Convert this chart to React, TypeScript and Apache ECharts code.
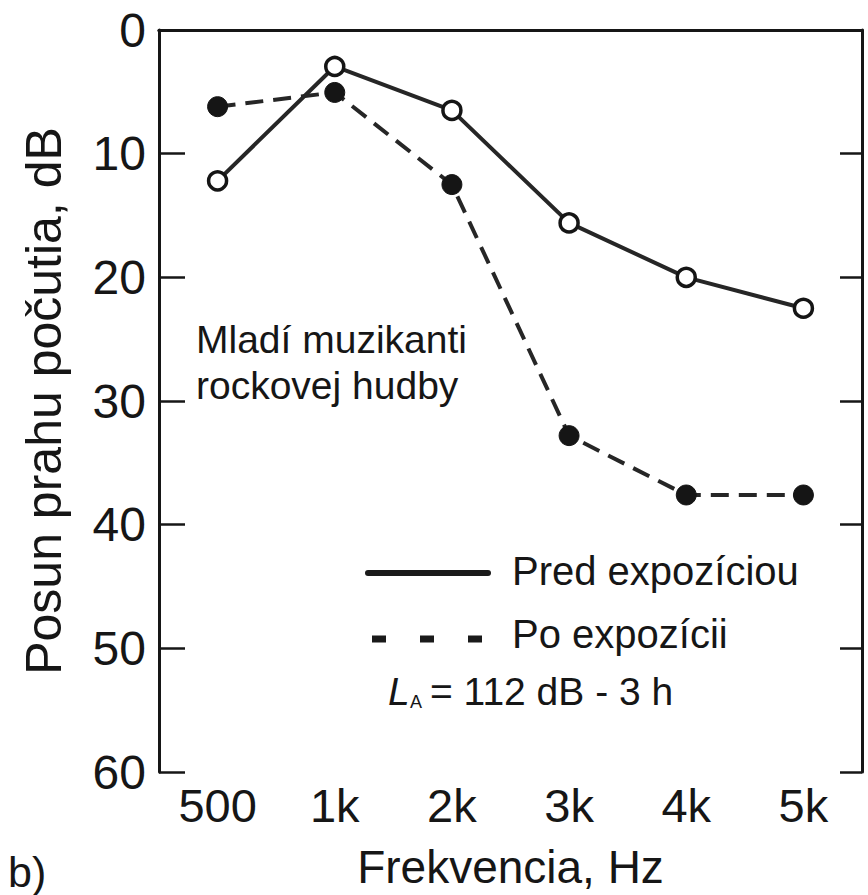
import React, { useEffect, useRef } from "react";
import * as echarts from "echarts";

// Frequency bands (Hz)
const frequencies = ["500", "1k", "2k", "3k", "4k", "5k"];
// Hearing threshold shift before exposure, dB
const predExpoziciou = [12.2, 2.95, 6.5, 15.6, 20.0, 22.5];
// Hearing threshold shift after exposure, dB
const poExpozicii = [6.2, 5.05, 12.5, 32.8, 37.6, 37.6];
// Vertical axis range and step
const yMin = 0;
const yMax = 60;
const yStep = 10;

const FONT = "'Liberation Sans', Arial, Helvetica, sans-serif";
const INK = "#161616";

export default function App() {
  const ref = useRef<HTMLDivElement>(null);

  useEffect(() => {
    if (!ref.current) return;
    const chart = echarts.init(ref.current, null, { renderer: "svg" });

    const tickStyle = { color: INK, width: 2.5 };
    const axisLineStyle = { color: INK, width: 3 };

    chart.setOption({
      animation: false,
      backgroundColor: "#fff",
      grid: { left: 159, right: 6, top: 30, bottom: 120, containLabel: false },
      xAxis: [
        {
          type: "category",
          position: "bottom",
          data: frequencies,
          boundaryGap: true,
          axisLine: { lineStyle: axisLineStyle },
          axisTick: { inside: true, alignWithLabel: true, length: 25, lineStyle: tickStyle },
          axisLabel: { color: INK, fontSize: 47, fontFamily: FONT, margin: 10 },
          splitLine: { show: false },
          name: "Frekvencia, Hz",
          nameLocation: "middle",
          nameGap: 72,
          nameTextStyle: { color: INK, fontSize: 46, fontFamily: FONT, verticalAlign: "top" },
        },
        {
          type: "category",
          position: "top",
          data: frequencies,
          boundaryGap: true,
          axisLine: { lineStyle: axisLineStyle },
          axisTick: { inside: true, alignWithLabel: true, length: 27, lineStyle: tickStyle },
          axisLabel: { show: false },
          splitLine: { show: false },
        },
      ],
      yAxis: [
        {
          type: "value",
          position: "left",
          inverse: true,
          min: yMin,
          max: yMax,
          interval: yStep,
          axisLine: { show: true, lineStyle: axisLineStyle },
          axisTick: { show: true, inside: true, length: 26, lineStyle: tickStyle },
          axisLabel: { color: INK, fontSize: 48, fontFamily: FONT, margin: 13 },
          splitLine: { show: false },
          name: "Posun prahu počutia, dB",
          nameLocation: "middle",
          nameGap: 90,
          nameRotate: 90,
          nameTextStyle: { color: INK, fontSize: 50, fontFamily: FONT },
        },
        {
          type: "value",
          position: "right",
          inverse: true,
          min: yMin,
          max: yMax,
          interval: yStep,
          axisLine: { show: true, lineStyle: axisLineStyle },
          axisTick: { show: true, inside: true, length: 22, lineStyle: tickStyle },
          axisLabel: { show: false },
          splitLine: { show: false },
        },
      ],
      series: [
        {
          name: "Po expozícii",
          type: "line",
          data: poExpozicii,
          symbol: "circle",
          symbolSize: 20,
          itemStyle: { color: "#151515", borderColor: "#151515", borderWidth: 1 },
          lineStyle: { color: "#262626", width: 4, type: [18, 10] },
          z: 2,
        },
        {
          name: "Pred expozíciou",
          type: "line",
          data: predExpoziciou,
          symbol: "circle",
          symbolSize: 18,
          itemStyle: { color: "#fff", borderColor: "#151515", borderWidth: 3.5 },
          lineStyle: { color: "#262626", width: 4 },
          z: 3,
        },
      ],
      graphic: [
        // legend samples
        {
          type: "line",
          shape: { x1: 368, y1: 573, x2: 488, y2: 573 },
          style: { stroke: "#1a1a1a", lineWidth: 6, lineCap: "round" },
        },
        {
          type: "line",
          shape: { x1: 372, y1: 639, x2: 486, y2: 639 },
          style: { stroke: "#1a1a1a", lineWidth: 7, lineDash: [14, 34] },
        },
        {
          type: "text",
          left: 512,
          top: 551,
          style: { text: "Pred expozíciou", fill: INK, fontSize: 40, fontFamily: FONT },
        },
        {
          type: "text",
          left: 512,
          top: 614,
          style: { text: "Po expozícii", fill: INK, fontSize: 40, fontFamily: FONT },
        },
        // exposure level note
        {
          type: "text",
          left: 388,
          top: 672,
          style: { text: "L", fill: INK, fontSize: 39, fontStyle: "italic", fontFamily: FONT },
        },
        {
          type: "text",
          left: 410,
          top: 693,
          style: { text: "A", fill: INK, fontSize: 18, fontFamily: FONT },
        },
        {
          type: "text",
          left: 430,
          top: 672,
          style: { text: "= 112 dB - 3 h", fill: INK, fontSize: 39, fontFamily: FONT },
        },
        // group description
        {
          type: "text",
          left: 196,
          top: 316,
          style: {
            text: "Mladí muzikanti\nrockovej hudby",
            fill: INK,
            fontSize: 39,
            lineHeight: 46,
            fontFamily: FONT,
          },
        },
        // panel label
        {
          type: "text",
          left: 8,
          top: 850,
          style: { text: "b)", fill: INK, fontSize: 43, fontFamily: FONT },
        },
      ],
    });

    return () => chart.dispose();
  }, []);

  return (
    <div
      ref={ref}
      style={{ position: "fixed", left: 0, top: 0, width: 868, height: 895, background: "#fff" }}
    />
  );
}
